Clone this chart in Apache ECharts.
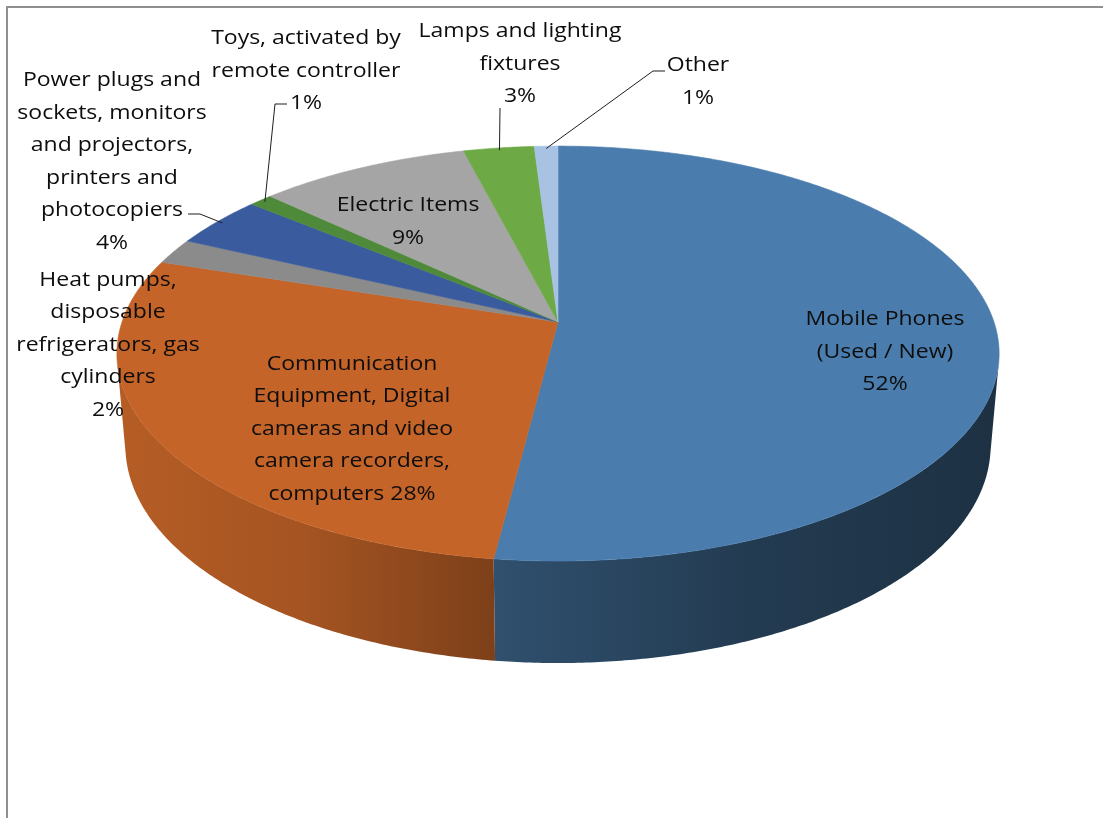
<!DOCTYPE html>
<html>
<head>
<meta charset="utf-8">
<script src="https://cdn.jsdelivr.net/npm/echarts@6/dist/echarts.min.js"></script>
<style>
  html, body { margin: 0; padding: 0; background: #ffffff; overflow: hidden; }
  #chart { width: 1103px; height: 818px; }
</style>
</head>
<body>
<div id="chart"></div>
<script>
// ---- data ----
const categories = [
  'Mobile Phones\n(Used / New)',
  'Communication\nEquipment, Digital\ncameras and video\ncamera recorders,\ncomputers',
  'Heat pumps,\ndisposable\nrefrigerators, gas\ncylinders',
  'Power plugs and\nsockets, monitors\nand projectors,\nprinters and\nphotocopiers',
  'Toys, activated by\nremote controller',
  'Electric Items',
  'Lamps and lighting\nfixtures',
  'Other'
];
const shares = [52, 28, 2, 4, 1, 9, 3, 1];

// ---- styles ----
const sliceColors = ['#4A7DAD', '#C46428', '#8B8B8B', '#3A5C9F', '#4F8A3A', '#A5A5A5', '#6DAA45', '#A8C2E4'];
// separator between name and percentage in each label
const percentJoin = ['\n', ' ', '\n', '\n', '\n', '\n', '\n', '\n'];
// label block centres (px)
const labelPos = [[885, 352], [352, 429], [108, 345], [112, 162], [306, 71], [408, 222], [520, 64], [698, 82]];
// leader-line points on the label side; the line ends on the slice rim
const leaderPts = [null, null, null, [[188, 214], [200, 214]], [[287, 104], [275, 104]], null, [[500, 108]], [[665, 71], [653, 71]]];

// ---- 3D pie geometry ----
const CX = 558, CY = 322;           // projected centre of the top face
const K = 436;                       // radius scale
const TILT = 27.7 * Math.PI / 180;   // elevation of the view
const D = 5.82;                      // camera distance (in radii)
const H = 0.241;                     // pie thickness (in radii)
const S = Math.sin(TILT), C = Math.cos(TILT);
const STEP = Math.PI / 360;

function project(theta, r, w) {
  const u = r * Math.sin(theta), v = r * Math.cos(theta);
  const yc = v * S + w * C;
  const zc = D + v * C - w * S;
  return [CX + K * u * D / zc, CY - K * yc * D / zc];
}

const total = shares.reduce((a, b) => a + b, 0);
const startAngles = [], endAngles = [];
let acc = 0;
shares.forEach(v => {
  startAngles.push(acc / total * 2 * Math.PI);
  acc += v;
  endAngles.push(acc / total * 2 * Math.PI);
});

// visible part of the outer wall (silhouette tangents)
const wallFrom = Math.acos(-1 / (D * C));
const wallTo = 2 * Math.PI - wallFrom;

let xMin = Infinity, xMax = -Infinity;
for (let t = 0; t < 2 * Math.PI; t += STEP) {
  const p = project(t, 1, 0);
  xMin = Math.min(xMin, p[0]);
  xMax = Math.max(xMax, p[0]);
}

const wallShade = [[0, 0.93], [0.21, 0.84], [0.44, 0.63], [0.72, 0.47], [1, 0.39]];
function scaleColor(hex, f) {
  const n = parseInt(hex.slice(1), 16);
  const r = Math.round(((n >> 16) & 255) * f);
  const g = Math.round(((n >> 8) & 255) * f);
  const b = Math.round((n & 255) * f);
  return 'rgb(' + r + ',' + g + ',' + b + ')';
}

function arc(a0, a1, w) {
  const pts = [];
  const n = Math.max(2, Math.ceil((a1 - a0) / STEP));
  for (let j = 0; j <= n; j++) pts.push(project(a0 + (a1 - a0) * j / n, 1, w));
  return pts;
}

function renderSlice(params, api) {
  const i = params.dataIndex;
  const value = api.value(0);
  const a0 = startAngles[i], a1 = endAngles[i];
  const color = sliceColors[i];
  const children = [];

  const w0 = Math.max(a0, wallFrom), w1 = Math.min(a1, wallTo);
  if (w1 > w0) {
    const topEdge = arc(w0, w1, 0);
    const bottomEdge = arc(w0, w1, -H).reverse();
    children.push({
      type: 'polygon',
      z2: 1,
      shape: { points: topEdge.concat(bottomEdge) },
      style: {
        fill: new echarts.graphic.LinearGradient(xMin, 0, xMax, 0,
          wallShade.map(s => ({ offset: s[0], color: scaleColor(color, s[1]) })), true),
        stroke: null
      }
    });
  }

  children.push({
    type: 'polygon',
    z2: 2,
    shape: { points: [project(0, 0, 0)].concat(arc(a0, a1, 0)) },
    style: { fill: color, stroke: color, lineWidth: 0.6 }
  });

  const mid = (a0 + a1) / 2;
  if (leaderPts[i]) {
    children.push({
      type: 'polyline',
      z2: 5,
      shape: { points: leaderPts[i].concat([project(mid, 0.985, 0)]) },
      style: { stroke: '#1e1e1e', lineWidth: 1, fill: null }
    });
  }

  const pct = Math.round(value / total * 100) + '%';
  children.push({
    type: 'text',
    z2: 6,
    x: labelPos[i][0],
    y: labelPos[i][1],
    scaleX: 1.15,
    style: {
      text: categories[i] + percentJoin[i] + pct,
      fontFamily: '"Open Sans", sans-serif',
      fontSize: 20,
      lineHeight: 32.5,
      align: 'center',
      verticalAlign: 'middle',
      fill: '#0d0d0d'
    }
  });

  return { type: 'group', children: children };
}

const chart = echarts.init(document.getElementById('chart'), null, { renderer: 'canvas' });
chart.setOption({
  backgroundColor: '#ffffff',
  animation: false,
  graphic: [{
    type: 'polyline',
    z: -1,
    shape: { points: [[7, 818], [7, 7], [1103, 7]] },
    style: { fill: null, stroke: '#8f8f8f', lineWidth: 2 }
  }],
  series: [{
    type: 'custom',
    coordinateSystem: 'none',
    renderItem: renderSlice,
    data: shares.map((v, i) => ({ name: categories[i], value: v }))
  }]
});
</script>
</body>
</html>
